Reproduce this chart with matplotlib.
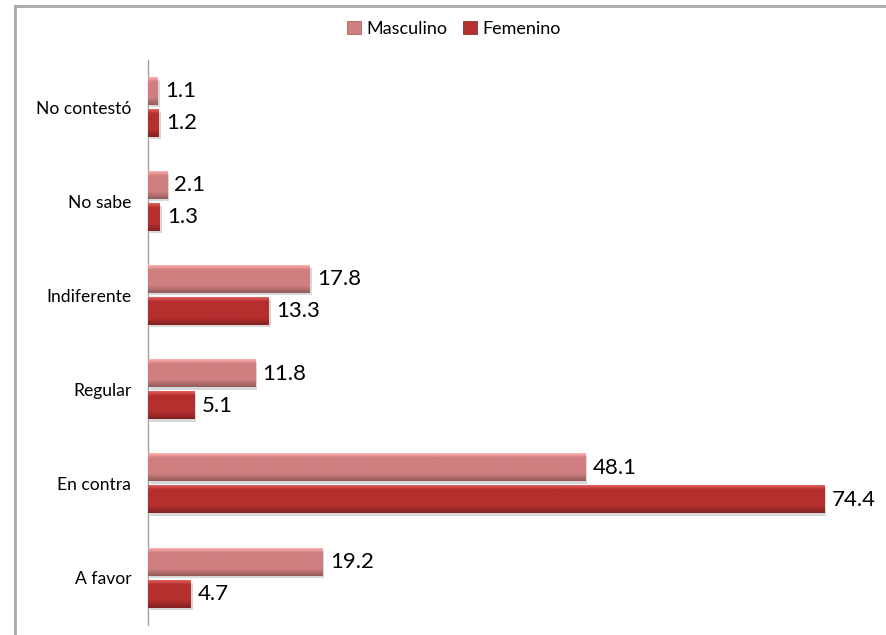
import matplotlib
matplotlib.use("Agg")
import matplotlib.pyplot as plt
import numpy as np
from matplotlib.patches import Patch
from matplotlib.lines import Line2D

categories = ["A favor", "En contra", "Regular", "Indiferente", "No sabe", "No contestó"]
masculino = [19.2, 48.1, 11.8, 17.8, 2.1, 1.1]
femenino = [4.7, 74.4, 5.1, 13.3, 1.3, 1.2]
series_names = ["Masculino", "Femenino"]

col_m = "#cf7f7f"
col_f = "#b52f2f"

plt.rcParams['font.family'] = ['Lato', 'DejaVu Sans']

fig = plt.figure(figsize=(8.87, 6.35), dpi=100)
ax = fig.add_axes([148/887, (635-625)/635, (875-148)/887, (625-60)/635])

y = np.arange(len(categories))
h = 0.29
off = 0.17

def grad_bar(ax, yc, val, base_rgb, hgt):
    base = np.array(matplotlib.colors.to_rgb(base_rgb))
    n = 32
    t = np.linspace(0, 1, n)
    light = np.clip(base + 0.18, 0, 1)
    dark = base * 0.72
    cols = np.zeros((n, 1, 3))
    for i, tt in enumerate(t):
        if tt < 0.15:
            c = light + (base - light) * (tt / 0.15)
        elif tt < 0.75:
            c = base
        else:
            c = base + (dark - base) * ((tt - 0.75) / 0.25)
        cols[i, 0] = c
    ax.imshow(cols, extent=[0, val, yc - hgt/2, yc + hgt/2], aspect='auto',
              origin='upper', zorder=3, interpolation='bilinear')

for i in range(len(categories)):
    ym = y[i] + off
    yf = y[i] - off
    ax.barh(ym - 0.025, masculino[i], height=h, left=0.2, color="#d8d8d8", zorder=2)
    ax.barh(yf - 0.025, femenino[i], height=h, left=0.2, color="#d8d8d8", zorder=2)
    grad_bar(ax, ym, masculino[i], col_m, h)
    grad_bar(ax, yf, femenino[i], col_f, h)
    ax.text(masculino[i] + 0.8, ym, f"{masculino[i]:.1f}", va='center', ha='left', fontsize=16, color='black')
    ax.text(femenino[i] + 0.8, yf, f"{femenino[i]:.1f}", va='center', ha='left', fontsize=16, color='black')

ax.set_xlim(0, 80)
ax.set_ylim(-0.5, len(categories) - 0.5)
ax.set_yticks(y)
ax.set_yticklabels(categories, fontsize=12.6)
ax.tick_params(axis='y', length=0, pad=12)
ax.set_xticks([])
for s in ['top', 'right', 'bottom']:
    ax.spines[s].set_visible(False)
ax.spines['left'].set_color('#a0a0a0')
ax.spines['left'].set_linewidth(1)

# outer border (top and left)
fig.add_artist(Line2D([15/887, 15/887], [0, 1 - 6/635], transform=fig.transFigure, color='#a8a8a8', lw=2))
fig.add_artist(Line2D([15/887, 1], [1 - 6/635, 1 - 6/635], transform=fig.transFigure, color='#a8a8a8', lw=2))

handles = [Patch(facecolor=col_m, edgecolor='#9a5050', lw=0.5), Patch(facecolor=col_f, edgecolor='#7a2020', lw=0.5)]
fig.legend(handles, series_names, loc='center', bbox_to_anchor=(454/887, 1 - 29/635), ncol=2,
           frameon=False, fontsize=13, handlelength=0.75, handleheight=0.75, handletextpad=0.3, columnspacing=0.9)

fig.savefig("out.png", dpi=100)
